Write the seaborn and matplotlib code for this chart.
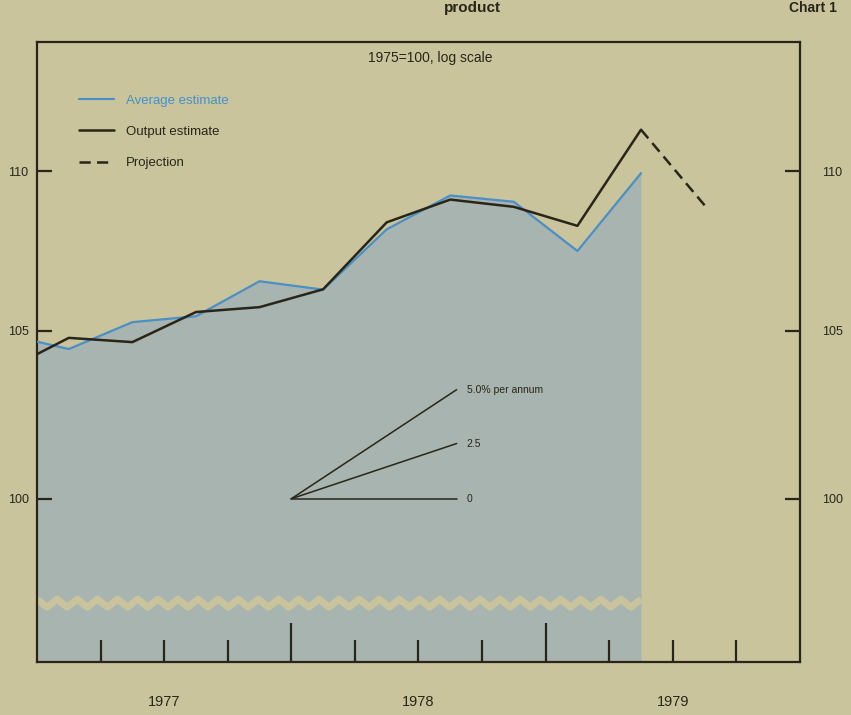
import numpy as np
import pandas as pd
import matplotlib
matplotlib.use("Agg")
import matplotlib.pyplot as plt
import seaborn as sns
from matplotlib.ticker import FixedLocator, NullFormatter

# Quarterly values (mid-quarter positions), 1975=100
quarters = [1976.875, 1977.125, 1977.375, 1977.625, 1977.875, 1978.125,
            1978.375, 1978.625, 1978.875, 1979.125, 1979.375]
average_estimate = [104.9, 104.45, 105.27, 105.45, 106.53, 106.27,
                    108.15, 109.22, 109.02, 107.47, 109.93]
output_estimate = [103.8, 104.79, 104.66, 105.58, 105.73, 106.28,
                   108.37, 109.09, 108.86, 108.26, 111.33]
projection_quarters = [1979.375, 1979.625]
projection = [111.33, 108.91]

# growth-rate fan
growth_rates = [5.0, 2.5, 0.0]
growth_labels = ["5.0% per annum", "2.5", "0"]
fan_start, fan_end = 1978.0, 1978.65

year_labels = ["1977", "1978", "1979"]
year_pos = [1977.5, 1978.5, 1979.5]
y_ticks = [100, 105, 110]

bg = "#c9c49c"
fill = "#a8b4b0"
dark = "#2a2519"
blue = "#4a8fc6"

sns.set_theme(style="ticks")
plt.rcParams["font.family"] = ["Liberation Sans", "DejaVu Sans"]

fig = plt.figure(figsize=(8.51, 7.15), dpi=100, facecolor=bg)
ax = fig.add_axes([0.0435, 0.074, 0.8965, 0.867])
ax.set_facecolor(bg)
ax.set_axisbelow(False)
ax.set_yscale("log")

df = pd.DataFrame({"quarter": quarters,
                   "Average estimate": average_estimate,
                   "Output estimate": output_estimate})

# shaded area under the average estimate
ax.fill_between(df["quarter"], df["Average estimate"], 90, color=fill, lw=0, zorder=1)

# broken-axis zigzag
zx = np.linspace(1977.0, 1979.375, 61)
zy = 0.095 + 0.0065 * (-1) ** np.arange(len(zx))
ax.plot(zx, zy, color=bg, lw=5, transform=ax.get_xaxis_transform(), zorder=2,
        solid_capstyle="butt")

sns.lineplot(data=df, x="quarter", y="Average estimate", ax=ax, color=blue,
             lw=1.6, label="Average estimate", zorder=4)
sns.lineplot(data=df, x="quarter", y="Output estimate", ax=ax, color=dark,
             lw=1.8, label="Output estimate", zorder=5)
sns.lineplot(x=projection_quarters, y=projection, ax=ax, color=dark, lw=1.8,
             dashes=False, linestyle=(0, (4.5, 2.5)), label="Projection", zorder=5)

# fan of growth lines
for rate, lab in zip(growth_rates, growth_labels):
    t = np.array([fan_start, fan_end])
    v = 100 * (1 + rate / 100) ** (t - fan_start)
    ax.plot(t, v, color=dark, lw=1.1, zorder=6)
    ax.text(fan_end + 0.04, v[-1], lab, fontsize=7.5, color=dark, va="center")

ax.set_xlim(1977.0, 1980.0)
ax.set_ylim(95.36, 114.2)
ax.set_xlabel("")
ax.set_ylabel("")

# x ticks: years long, quarters short
ax.xaxis.set_major_locator(FixedLocator([1978.0, 1979.0]))
ax.xaxis.set_minor_locator(FixedLocator([1977.25, 1977.5, 1977.75, 1978.25, 1978.5,
                                         1978.75, 1979.25, 1979.5, 1979.75]))
ax.xaxis.set_major_formatter(NullFormatter())
ax.tick_params(axis="x", which="major", direction="in", length=28, width=1.6,
               color=dark, labelbottom=False)
ax.tick_params(axis="x", which="minor", direction="in", length=16, width=1.6,
               color=dark)
sec = ax.secondary_xaxis("bottom")
sec.set_xticks(year_pos, year_labels)
sec.tick_params(length=0, pad=24, labelsize=10.5, labelcolor=dark)
sec.spines["bottom"].set_visible(False)

# y ticks on both sides
ax.yaxis.set_minor_locator(FixedLocator([]))
ax.set_yticks(y_ticks, [str(v) for v in y_ticks])
ax.tick_params(axis="y", which="both", direction="in", length=11, width=1.6,
               color=dark, labelsize=9, labelcolor=dark, left=True, right=True,
               labelleft=True, labelright=True, pad=6)
for t in ax.yaxis.get_major_ticks():
    t.label2.set_x(1.018)

for s in ax.spines.values():
    s.set_visible(True)
    s.set_color(dark)
    s.set_linewidth(1.6)

ax.text(0.515, 0.974, "1975=100, log scale", transform=ax.transAxes,
        ha="center", va="center", fontsize=10, color=dark)

leg = ax.legend(loc="upper left", bbox_to_anchor=(0.04, 0.935), frameon=False,
                handlelength=2.6, labelspacing=1.45, fontsize=9.5, handletextpad=0.9)
for txt, c in zip(leg.get_texts(), [blue, dark, dark]):
    txt.set_color(c)

# page header (cut off in the scan)
fig.text(0.555, 0.998, "product", ha="center", va="top", fontsize=11,
         fontweight="bold", color=dark)
fig.text(0.955, 0.998, "Chart 1", ha="center", va="top", fontsize=10,
         fontweight="bold", color=dark)

fig.savefig("out.png", dpi=100, facecolor=bg)
